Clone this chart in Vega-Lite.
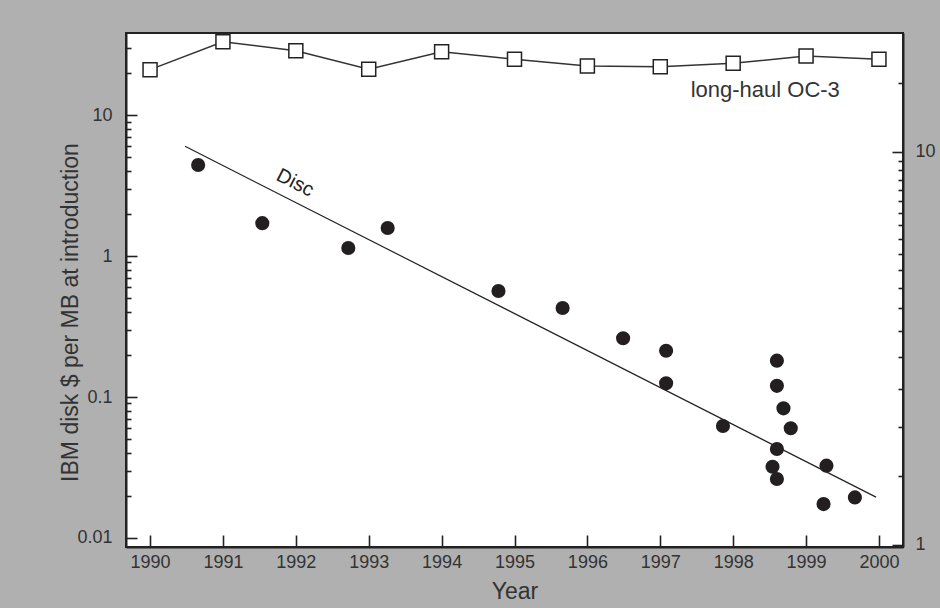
{
  "$schema": "https://vega.github.io/schema/vega-lite/v6.json",
  "width": 777,
  "height": 514,
  "autosize": {"type": "none"},
  "padding": {"left": 126, "top": 33, "right": 37, "bottom": 61},
  "background": "#b0b0b0",
  "config": {
    "view": {"fill": "white", "stroke": "#222", "strokeWidth": 2},
    "font": "Liberation Sans",
    "axis": {
      "domainColor": "#222", "domainWidth": 2, "tickColor": "#222", "tickWidth": 1.6,
      "labelColor": "#333", "titleColor": "#333", "labelFont": "Liberation Sans", "titleFont": "Liberation Sans",
      "labelFontSize": 18, "titleFontSize": 23, "titleFontWeight": "normal", "grid": false
    }
  },
  "datasets": {
    "disk": [
      {"yr": 1990.66, "price": 4.42},
      {"yr": 1991.54, "price": 1.71},
      {"yr": 1992.72, "price": 1.14},
      {"yr": 1993.26, "price": 1.58},
      {"yr": 1994.78, "price": 0.565},
      {"yr": 1995.66, "price": 0.428},
      {"yr": 1996.49, "price": 0.261},
      {"yr": 1997.08, "price": 0.213},
      {"yr": 1997.08, "price": 0.125},
      {"yr": 1997.86, "price": 0.0623},
      {"yr": 1998.60, "price": 0.181},
      {"yr": 1998.60, "price": 0.120},
      {"yr": 1998.69, "price": 0.0831},
      {"yr": 1998.79, "price": 0.060},
      {"yr": 1998.60, "price": 0.0428},
      {"yr": 1998.54, "price": 0.032},
      {"yr": 1998.60, "price": 0.0262},
      {"yr": 1999.28, "price": 0.0326},
      {"yr": 1999.24, "price": 0.0174},
      {"yr": 1999.67, "price": 0.0194}
    ],
    "trend": [
      {"yr": 1990.48, "price": 6.0},
      {"yr": 1999.96, "price": 0.0195}
    ],
    "oc3": [
      {"yr": 1990, "price": 16.2},
      {"yr": 1991, "price": 19.08},
      {"yr": 1992, "price": 18.1},
      {"yr": 1993, "price": 16.23},
      {"yr": 1994, "price": 18.0},
      {"yr": 1995, "price": 17.22},
      {"yr": 1996, "price": 16.56},
      {"yr": 1997, "price": 16.48},
      {"yr": 1998, "price": 16.81},
      {"yr": 1999, "price": 17.55},
      {"yr": 2000, "price": 17.22}
    ],
    "leftLabels": [{"yr": 1991.99, "price": 3.3, "label": "Disc"}],
    "rightLabels": [{"yr": 1998.44, "price": 14.4, "label": "long-haul OC-3"}]
  },
  "layer": [
    {
      "layer": [
        {
          "data": {"name": "disk"},
          "mark": {"type": "circle", "size": 200, "color": "#231f20", "opacity": 1},
          "encoding": {
            "x": {
              "field": "yr", "type": "quantitative",
              "scale": {"domain": [1989.67, 2000.33], "nice": false, "zero": false},
              "axis": {"values": [1990, 1991, 1992, 1993, 1994, 1995, 1996, 1997, 1998, 1999, 2000], "format": "d", "tickSize": -12, "labelPadding": 18, "title": "Year", "titlePadding": 9}
            },
            "y": {
              "field": "price", "type": "quantitative",
              "scale": {"type": "log", "domain": [0.00863, 38.2], "nice": false},
              "axis": {
                "orient": "left",
                "title": "IBM disk $ per MB at introduction",
                "titleX": -49,
                "titleY": 279,
                "titleBaseline": "alphabetic",
                "titleAngle": -90,
                "titleAlign": "center",
                "values": [0.01, 0.02, 0.03, 0.04, 0.05, 0.06, 0.07, 0.08, 0.09, 0.1, 0.2, 0.3, 0.4, 0.5, 0.6, 0.7, 0.8, 0.9, 1, 2, 3, 4, 5, 6, 7, 8, 9, 10, 20, 30],
                "format": "~g",
                "labelExpr": "abs(log(datum.value)/LN10 - round(log(datum.value)/LN10)) < 0.001 ? datum.label : ''",
                "tickSize": {"condition": {"test": "abs(log(datum.value)/LN10 - round(log(datum.value)/LN10)) < 0.001", "value": -11}, "value": -5},
                "labelPadding": 25
              }
            }
          }
        },
        {
          "data": {"name": "trend"},
          "mark": {"type": "line", "color": "#222", "strokeWidth": 1.2},
          "encoding": {
            "x": {"field": "yr", "type": "quantitative", "scale": {"domain": [1989.67, 2000.33], "nice": false, "zero": false}},
            "y": {"field": "price", "type": "quantitative", "scale": {"type": "log", "domain": [0.00863, 38.2], "nice": false}}
          }
        },
        {
          "data": {"name": "leftLabels"},
          "mark": {"type": "text", "fontSize": 20, "angle": 27, "color": "#222", "align": "center", "baseline": "middle"},
          "encoding": {
            "x": {"field": "yr", "type": "quantitative", "scale": {"domain": [1989.67, 2000.33], "nice": false, "zero": false}},
            "y": {"field": "price", "type": "quantitative", "scale": {"type": "log", "domain": [0.00863, 38.2], "nice": false}},
            "text": {"field": "label"}
          }
        }
      ]
    },
    {
      "layer": [
        {
          "data": {"name": "oc3"},
          "mark": {"type": "line", "color": "#333", "strokeWidth": 1.5},
          "encoding": {
            "x": {"field": "yr", "type": "quantitative", "scale": {"domain": [1989.67, 2000.33], "nice": false, "zero": false}},
            "y": {
              "field": "price", "type": "quantitative",
              "scale": {"type": "log", "domain": [0.988, 20.08], "nice": false},
              "axis": {
                "orient": "right",
                "title": null,
                "values": [1, 1.5, 2, 2.5, 3, 3.5, 4, 4.5, 5, 5.5, 6, 6.5, 7, 7.5, 8, 8.5, 9, 9.5, 10, 15],
                "format": "~g",
                "labelExpr": "abs(log(datum.value)/LN10 - round(log(datum.value)/LN10)) < 0.001 ? datum.label : ''",
                "tickSize": {"condition": {"test": "abs(log(datum.value)/LN10 - round(log(datum.value)/LN10)) < 0.001", "value": -11}, "value": -5},
                "labelPadding": 23
              }
            }
          }
        },
        {
          "data": {"name": "oc3"},
          "mark": {"type": "point", "shape": "square", "size": 196, "filled": true, "fill": "white", "stroke": "#222", "strokeWidth": 1.5, "opacity": 1},
          "encoding": {
            "x": {"field": "yr", "type": "quantitative", "scale": {"domain": [1989.67, 2000.33], "nice": false, "zero": false}},
            "y": {"field": "price", "type": "quantitative", "scale": {"type": "log", "domain": [0.988, 20.08], "nice": false}}
          }
        },
        {
          "data": {"name": "rightLabels"},
          "mark": {"type": "text", "fontSize": 22, "color": "#333", "align": "center", "baseline": "middle"},
          "encoding": {
            "x": {"field": "yr", "type": "quantitative", "scale": {"domain": [1989.67, 2000.33], "nice": false, "zero": false}},
            "y": {"field": "price", "type": "quantitative", "scale": {"type": "log", "domain": [0.988, 20.08], "nice": false}},
            "text": {"field": "label"}
          }
        }
      ]
    }
  ],
  "resolve": {"scale": {"y": "independent"}}
}
